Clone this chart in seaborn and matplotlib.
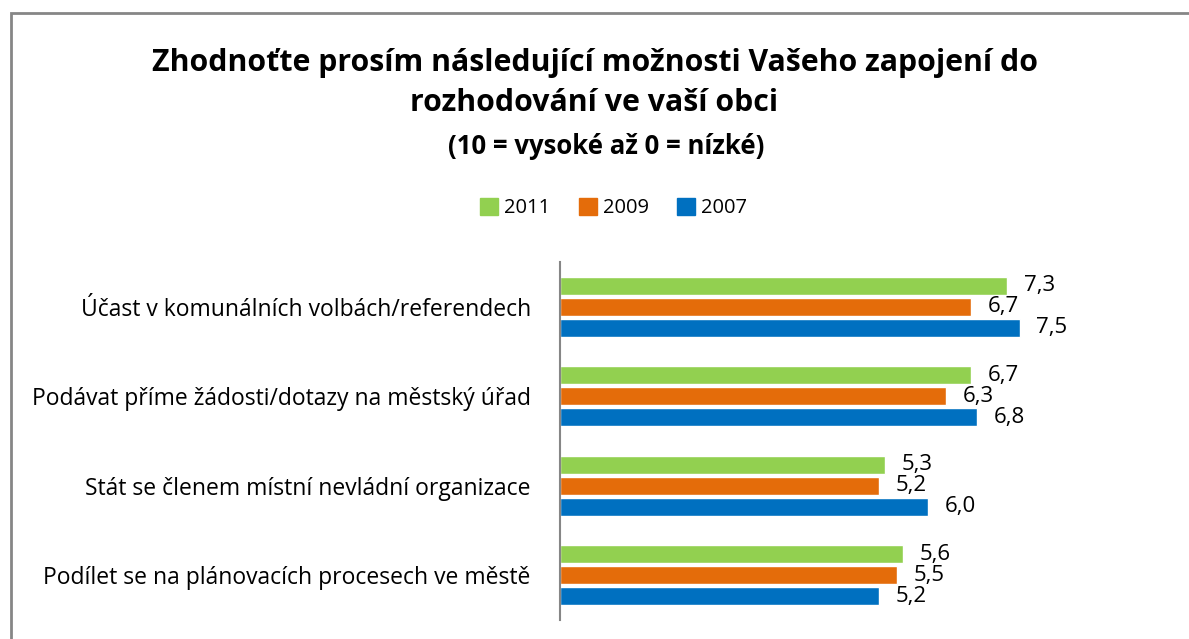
import matplotlib
matplotlib.use("Agg")
import matplotlib.pyplot as plt
import pandas as pd
import seaborn as sns
from matplotlib.patches import Rectangle

# ---------------- Data ----------------
categories = [
    "Účast v komunálních volbách/referendech",
    "Podávat příme žádosti/dotazy na městský úřad",
    "Stát se členem místní nevládní organizace",
    "Podílet se na plánovacích procesech ve městě",
]
years = ["2011", "2009", "2007"]
vals_2011 = [7.3, 6.7, 5.3, 5.6]
vals_2009 = [6.7, 6.3, 5.2, 5.5]
vals_2007 = [7.5, 6.8, 6.0, 5.2]
colors = {"2011": "#92D050", "2009": "#E46C0A", "2007": "#0070C0"}

df = pd.DataFrame({
    "kategorie": categories * 3,
    "rok": [y for y in years for _ in categories],
    "hodnota": vals_2011 + vals_2009 + vals_2007,
})

# ---------------- Plot ----------------
sns.set_style("white")
plt.rcParams["font.family"] = ["Open Sans", "DejaVu Sans"]
plt.rcParams["text.color"] = "black"
plt.rcParams["ytick.color"] = "black"

fig = plt.figure(figsize=(11.89, 6.39), dpi=100)
ax = fig.add_axes([560 / 1189, 1 - 620 / 639, 613 / 1189, 358 / 639])

sns.barplot(data=df, y="kategorie", x="hodnota", hue="rok", hue_order=years,
            order=categories, palette=colors, orient="h", width=0.7, gap=0.15,
            saturation=1, errorbar=None, legend=False, ax=ax)

for cont in ax.containers:
    ax.bar_label(cont, labels=[f"{v:.1f}".replace(".", ",") for v in cont.datavalues],
                 padding=12, fontsize=16, color="black")

ax.set_xlim(0, 10)
ax.set_xlabel("")
ax.set_ylabel("")
ax.set_xticks([])
ax.tick_params(axis="y", length=0, pad=21, labelsize=16.5, labelcolor="black")
for side in ["top", "right", "bottom"]:
    ax.spines[side].set_visible(False)
ax.spines["left"].set_color("#868686")
ax.spines["left"].set_linewidth(1.5)

# --- Titles ---
fig.text(0.5, 1 - 83 / 639,
         "Zhodnoťte prosím následující možnosti Vašeho zapojení do\nrozhodování ve vaší obci",
         ha="center", va="center", fontsize=21.8, fontweight="bold", linespacing=1.45)
fig.text(0.51, 1 - 146 / 639, "(10 = vysoké až 0 = nízké)",
         ha="center", va="center", fontsize=18.5, fontweight="bold")

# --- Legend ---
handles = [Rectangle((0, 0), 1, 1, color=colors[y]) for y in years]
fig.legend(handles, years, loc="center", bbox_to_anchor=(0.516, 1 - 208 / 639),
           ncol=3, frameon=False, fontsize=14.5, handlelength=0.9, handleheight=0.9,
           handletextpad=0.3, columnspacing=1.4)

# --- Border ---
fig.patches.append(Rectangle((11 / 1189, -0.05), 1.2, 1 - 13 / 639 + 0.05,
                             transform=fig.transFigure, fill=False,
                             edgecolor="#868686", linewidth=2))

fig.savefig("out.png", dpi=100)
